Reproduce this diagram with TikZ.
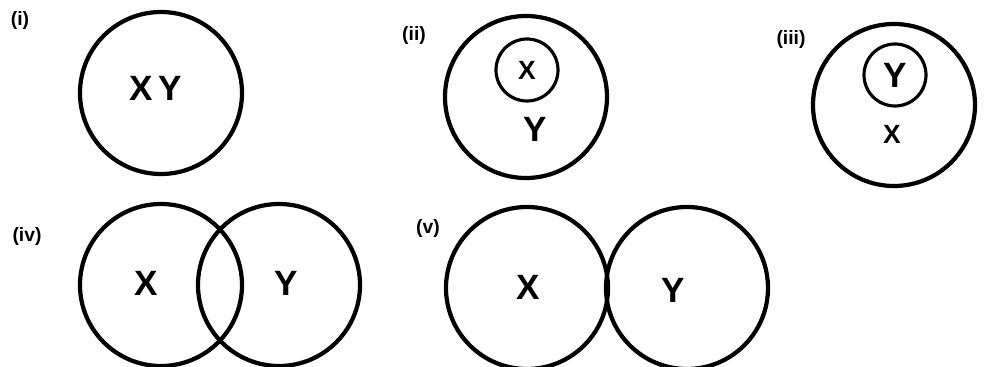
\documentclass[tikz,border=0pt]{standalone}
\usepackage{fontspec}
\setmainfont{Liberation Sans}
\usetikzlibrary{positioning}

\begin{document}
\begin{tikzpicture}[
          set/.style={draw, circle, line width=2.4pt, minimum size=3.24cm, inner sep=0pt},
          subset/.style={draw, circle, line width=1.8pt, minimum size=1.24cm, inner sep=0pt},
          sym/.style={font=\fontsize{20}{24}\selectfont\bfseries, inner sep=0pt},
          smallsym/.style={font=\fontsize{15}{18}\selectfont\bfseries, inner sep=0pt},
          tag/.style={font=\fontsize{11}{13}\selectfont\bfseries, inner sep=0pt}
        ]
        \useasboundingbox (0,0) rectangle (19.74,-7.34);

        % (i) equal sets
        \node[tag] (ti) at (0.40,-0.42) {(i)};
        \node[set] (si) at (3.22,-1.86) {};
        \node[sym] (xyi) at (3.12,-1.76) {X\,Y};

        % (ii) X inside Y
        \node[tag] (tii) at (8.28,-0.72) {(ii)};
        \node[set]    (yii) at (10.52,-1.94) {};
        \node[subset] (xii) at (10.54,-1.40) {};
        \node[smallsym] (lxii) at (xii) {X};
        \node[sym] (lyii) at (10.70,-2.58) {Y};

        % (iii) Y inside X
        \node[tag] (tiii) at (15.82,-0.80) {(iii)};
        \node[set]    (xiii) at (17.88,-2.10) {};
        \node[subset] (yiii) at (17.90,-1.50) {};
        \node[sym] (lyiii) at (yiii) {Y};
        \node[smallsym] (lxiii) at (17.84,-2.68) {X};

        % (iv) overlapping
        \node[tag] (tiv) at (0.54,-4.74) {(iv)};
        \node[set] (xiv) at (3.22,-5.70) {};
        \node[set] (yiv) at (5.58,-5.70) {};
        \node[sym] (lxiv) at (2.92,-5.66) {X};
        \node[sym] (lyiv) at (5.72,-5.66) {Y};

        % (v) touching
        \node[tag] (tv) at (8.56,-4.58) {(v)};
        \node[set] (xv) at (10.54,-5.76) {};
        \node[set] (yv) at (13.74,-5.76) {};
        \node[sym] (lxv) at (10.56,-5.74) {X};
        \node[sym] (lyv) at (13.46,-5.80) {Y};
      \end{tikzpicture}
\end{document}
